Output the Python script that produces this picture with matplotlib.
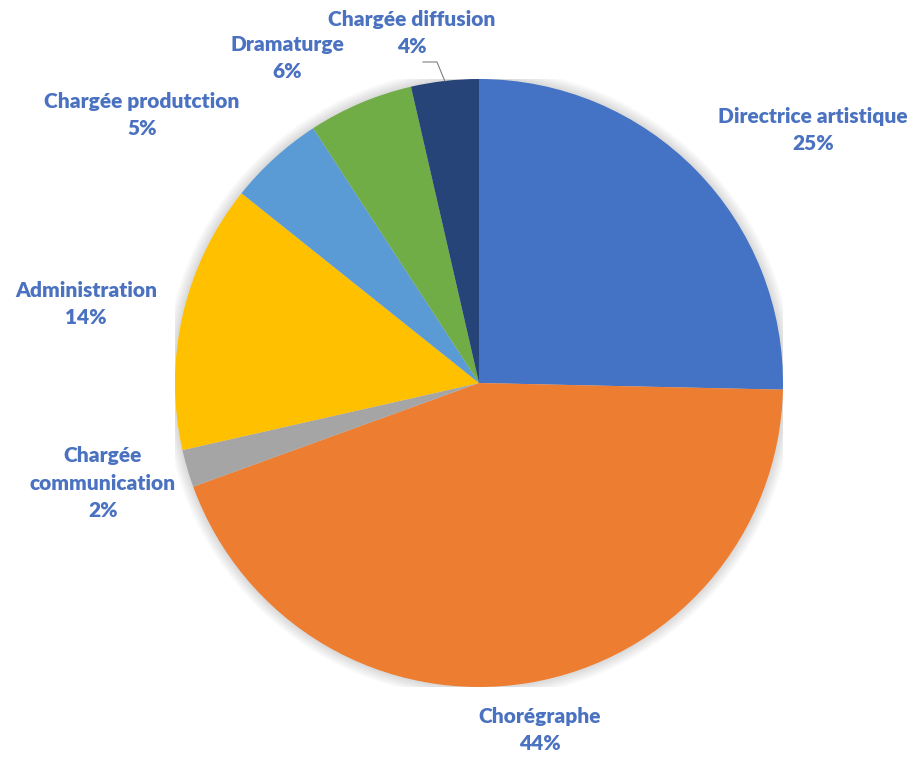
import numpy as np
import matplotlib.pyplot as plt
from matplotlib.patches import Circle

# data (clockwise from 12 o'clock), slice sizes in %
labels = ["Directrice artistique", "Chorégraphe", "Chargée\ncommunication",
          "Administration", "Chargée produtction", "Dramaturge", "Chargée diffusion"]
shares = [25.4, 44.2, 2.0, 14.3, 5.1, 5.6, 3.6]
colors = ["#4472C4", "#ED7D31", "#A5A5A5", "#FFC000", "#5B9BD5", "#70AD47", "#264478"]

# label block centres in pixels (x, y from top)
label_px = [(813, 130), (540, 730), (103, 483), (86, 304), (142, 115), (287, 58), (412, 33)]

W, H = 911, 758
cx, cy, r = 479, 383, 304

fig = plt.figure(figsize=(W / 100, H / 100), dpi=100)
ax = fig.add_axes([(cx - r) / W, (H - cy - r) / H, 2 * r / W, 2 * r / H])

# soft shadow behind the pie
for k in range(6):
    ax.add_patch(Circle((0, 0.0), 1.0 + 0.006 * (k + 1), color="black",
                        alpha=0.025, lw=0, zorder=0))

wedges, _ = ax.pie(shares, colors=colors, startangle=90, counterclock=False,
                   radius=1.0, wedgeprops=dict(linewidth=0))
for w in wedges:
    w.set_zorder(2)

ax.set_xlim(-1, 1)
ax.set_ylim(-1, 1)
ax.set_aspect("equal")
ax.axis("off")

total = sum(shares)
lab_color = "#4A72C0"
for lab, val, (px, py) in zip(labels, shares, label_px):
    pct = int(round(val / total * 100))
    fig.text(px / W, 1 - py / H, f"{lab}\n{pct}%", ha="center", va="center",
             fontsize=15, fontweight="heavy", color=lab_color,
             family=["Lato", "DejaVu Sans"], linespacing=1.55,
             transform=fig.transFigure)

# leader line for the small diffusion slice
w = wedges[-1]
mid = np.deg2rad((w.theta1 + w.theta2) / 2)
ex, ey = np.cos(mid), np.sin(mid)
to_data = lambda px, py: ax.transData.inverted().transform(
    fig.transFigure.transform((px / W, 1 - py / H)))
p1 = to_data(423, 62)
p2 = to_data(437, 62)
ax.plot([p1[0], p2[0], ex], [p1[1], p2[1], ey], color="#7f7f7f", lw=0.8,
        clip_on=False, zorder=3)

fig.savefig("out.png", dpi=100)
